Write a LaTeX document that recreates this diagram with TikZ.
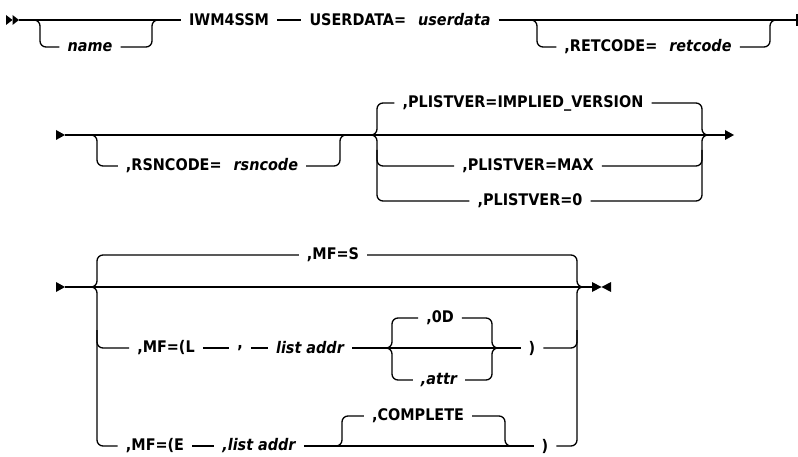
\documentclass[tikz,border=0pt]{standalone}
\usepackage{fontspec}
\newfontfamily\railfont{DejaVu Sans Condensed}
\begin{document}
\begin{tikzpicture}[x=1pt,y=-1pt,
  rail/.style={line width=1.3pt, rounded corners=6pt},
  txt/.style={inner xsep=8pt, inner ysep=0pt, font=\railfont\bfseries\fontsize{16}{19}\selectfont, anchor=center},
  var/.style={txt, font=\railfont\bfseries\itshape\fontsize{16}{19}\selectfont},
  tipfill/.style={fill=black, draw=none}]
\useasboundingbox (0,0) rectangle (798,457);

% ---------- row 1 ----------
\coordinate (r1s) at (19,20);
\coordinate (r1e) at (797,20);
\fill[tipfill] (6,15) -- (12.5,20) -- (6,25) -- cycle;
\fill[tipfill] (12.5,15) -- (19,20) -- (12.5,25) -- cycle;
\node[var] (name) at (90,47) {name};
\node[txt] (iwm) at (229,20) {IWM4SSM};
\node[txt] (usr) at (400,20) {USERDATA=\hspace{12pt}\textit{userdata}};
\node[txt] (ret) at (648,47) {,RETCODE=\hspace{12pt}\textit{retcode}};
\draw[rail] (r1s) -- (iwm.west);
\draw[rail] (28,20) -- (40,20) -- (40,47) -- (name.west);
\draw[rail] (name.east) -- (152,47) -- (152,20) -- (164,20);
\draw[rail] (iwm.east) -- (usr.west);
\draw[rail] (usr.east) -- (r1e);
\draw[line width=1.3pt] (797,14) -- (797,26);
\draw[rail] (525,20) -- (537,20) -- (537,47) -- (ret.west);
\draw[rail] (ret.east) -- (770,47) -- (770,20) -- (782,20);

% ---------- row 2 ----------
\coordinate (r2s) at (65,135);
\coordinate (r2e) at (725,135);
\fill[tipfill] (56,130) -- (65,135) -- (56,140) -- cycle;
\fill[tipfill] (725,130) -- (734,135) -- (725,140) -- cycle;
\node[txt] (rsn) at (212,166) {,RSNCODE=\hspace{12pt}\textit{rsncode}};
\node[txt] (pli) at (523,103) {,PLISTVER=IMPLIED\_VERSION};
\node[txt] (plm) at (528,166) {,PLISTVER=MAX};
\node[txt] (pl0) at (530,201) {,PLISTVER=0};
\draw[rail] (r2s) -- (r2e);
\draw[rail] (85,135) -- (97,135) -- (97,166) -- (rsn.west);
\draw[rail] (rsn.east) -- (340,166) -- (340,135) -- (352,135);
\draw[rail] (365,135) -- (377,135) -- (377,103) -- (pli.west);
\draw[rail] (pli.east) -- (702,103) -- (702,135) -- (714,135);
\draw[rail] (365,135) -- (377,135) -- (377,201) -- (pl0.west);
\draw[rail] (377,150) -- (377,166) -- (plm.west);
\draw[rail] (pl0.east) -- (702,201) -- (702,135) -- (714,135);
\draw[rail] (plm.east) -- (702,166) -- (702,150);

% ---------- row 3 ----------
\coordinate (r3s) at (65,287);
\coordinate (r3e) at (593,287);
\fill[tipfill] (56,282) -- (65,287) -- (56,292) -- cycle;
\fill[tipfill] (592,282) -- (601.5,287) -- (592,292) -- cycle;
\fill[tipfill] (611,282) -- (601.5,287) -- (611,292) -- cycle;
\node[txt] (mfs) at (333,255) {,MF=S};
\node[txt] (mfl) at (166,348) {,MF=(L};
\node[txt] (cm) at (240,348) {,};
\node[var] (la1) at (310,348) {list addr};
\node[txt] (od) at (440,318) {,0D};
\node[var] (attr) at (439,380) {,attr};
\node[txt] (rp1) at (532,348) {)};
\node[txt] (mfe) at (155,446) {,MF=(E};
\node[var] (la2) at (259,446) {,list addr};
\node[txt] (cpl) at (418,416) {,COMPLETE};
\node[txt] (rp2) at (545,446) {)};
\draw[rail] (r3s) -- (r3e);
\draw[rail] (85,287) -- (97,287) -- (97,255) -- (mfs.west);
\draw[rail] (mfs.east) -- (577,255) -- (577,287) -- (589,287);
\draw[rail] (85,287) -- (97,287) -- (97,446) -- (mfe.west);
\draw[rail] (97,330) -- (97,348) -- (mfl.west);
\draw[rail] (mfl.east) -- (cm.west);
\draw[rail] (cm.east) -- (la1.west);
\draw[rail] (la1.east) -- (rp1.west);
\draw[rail] (380,348) -- (392,348) -- (392,318) -- (od.west);
\draw[rail] (od.east) -- (492,318) -- (492,348) -- (504,348);
\draw[rail] (380,348) -- (392,348) -- (392,380) -- (attr.west);
\draw[rail] (attr.east) -- (492,380) -- (492,348) -- (504,348);
\draw[rail] (rp1.east) -- (577,348) -- (577,330);
\draw[rail] (mfe.east) -- (la2.west);
\draw[rail] (la2.east) -- (rp2.west);
\draw[rail] (330,446) -- (342,446) -- (342,416) -- (cpl.west);
\draw[rail] (cpl.east) -- (505,416) -- (505,446) -- (517,446);
\draw[rail] (rp2.east) -- (577,446) -- (577,287) -- (589,287);
\end{tikzpicture}
\end{document}
